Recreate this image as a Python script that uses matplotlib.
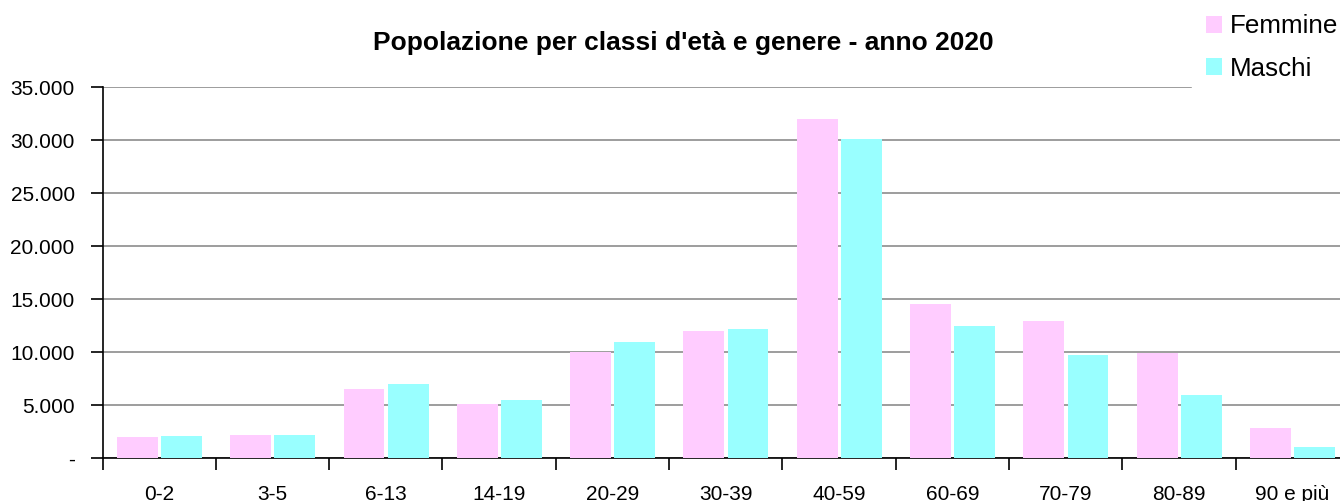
import matplotlib
matplotlib.use("Agg")
import matplotlib.pyplot as plt
import numpy as np
from matplotlib.ticker import FuncFormatter, FixedLocator

plt.rcParams["font.family"] = ["Liberation Sans", "DejaVu Sans"]

# age classes and population by gender
classes = ["0-2", "3-5", "6-13", "14-19", "20-29", "30-39", "40-59",
           "60-69", "70-79", "80-89", "90 e più"]
femmine = [2000, 2200, 6550, 5100, 10050, 12000, 32000, 14550, 12950, 9950, 2850]
maschi = [2100, 2200, 7000, 5500, 10950, 12200, 30100, 12500, 9750, 5950, 1050]
yticks = [0, 5000, 10000, 15000, 20000, 25000, 30000, 35000]

PINK = "#FFCCFF"
CYAN = "#99FFFF"

W, H = 1340, 501
fig = plt.figure(figsize=(W / 100, H / 100), dpi=100, facecolor="white")
# axes runs a bit past the right edge, the reference is cropped there
left, right = 102.5 / W, 1349.0 / W
bottom, top = (H - 458.3) / H, (H - 87.0) / H
ax = fig.add_axes([left, bottom, right - left, top - bottom])

x = np.arange(len(classes))
bw = 0.36
ax.bar(x - 0.193, femmine, bw, color=PINK, label="Femmine", zorder=3)
ax.bar(x + 0.197, maschi, bw, color=CYAN, label="Maschi", zorder=3)

ax.set_xlim(-0.5, len(classes) - 0.5)
ax.set_ylim(0, 35000)

def fmt(v, pos):
    if v == 0:
        return "-"
    return f"{int(v):,}".replace(",", ".")

ax.yaxis.set_major_locator(FixedLocator(yticks))
ax.yaxis.set_major_formatter(FuncFormatter(fmt))
ax.yaxis.grid(True, color="#8c8c8c", linewidth=1.2, zorder=0)
ax.set_axisbelow(True)

# ticks between categories, labels centred on categories
ax.set_xticks(np.arange(len(classes) + 1) - 0.5)
ax.set_xticklabels([])
ax.set_xticks(x, minor=True)
ax.set_xticklabels(classes, minor=True)
ax.tick_params(axis="x", which="major", length=8.5, width=1.2, color="black", direction="out")
ax.tick_params(axis="x", which="minor", length=0, pad=19, labelsize=15)
ax.tick_params(axis="y", length=9, width=1.2, pad=11, labelsize=15)

for s in ["top", "right"]:
    ax.spines[s].set_visible(False)
for s in ["left", "bottom"]:
    ax.spines[s].set_color("black")
    ax.spines[s].set_linewidth(1.2)

fig.text(683 / W, (H - 50) / H, "Popolazione per classi d'età e genere - anno 2020",
         ha="center", va="baseline", fontsize=19, fontweight="bold")

leg = fig.legend(loc="upper left", bbox_to_anchor=(1192 / W, 1.0), fontsize=18.7,
                 frameon=True, facecolor="white", edgecolor="white", framealpha=1,
                 handlelength=0.62, handleheight=0.62, handletextpad=0.3,
                 labelspacing=0.72, borderpad=0.55, borderaxespad=0, fancybox=False)

fig.savefig("out.png", dpi=100, facecolor="white")
